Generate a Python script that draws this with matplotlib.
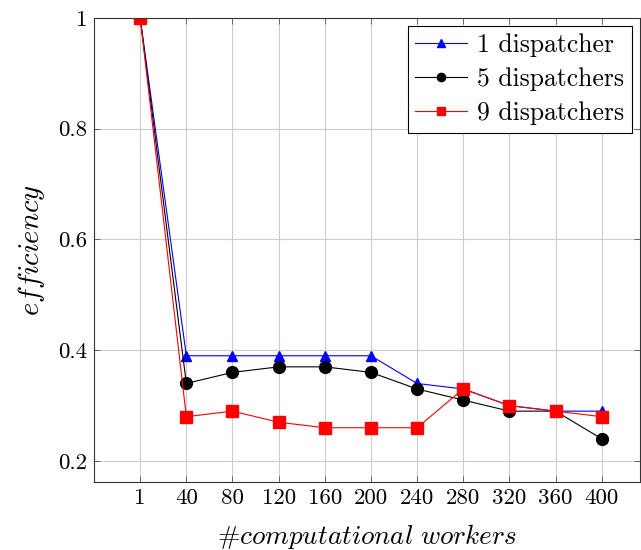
import matplotlib
matplotlib.use('Agg')
import matplotlib.pyplot as plt
import numpy as np

plt.rcParams['font.family'] = 'serif'
plt.rcParams['font.serif'] = ['cmr10']
plt.rcParams['mathtext.fontset'] = 'cm'
plt.rcParams['axes.formatter.use_mathtext'] = True
plt.rcParams['axes.unicode_minus'] = False

# Datos
workers = ['1', '40', '80', '120', '160', '200', '240', '280', '320', '360', '400']
disp1 = [1.0, 0.39, 0.39, 0.39, 0.39, 0.39, 0.34, 0.33, 0.30, 0.29, 0.29]
disp5 = [1.0, 0.34, 0.36, 0.37, 0.37, 0.36, 0.33, 0.31, 0.29, 0.29, 0.24]
disp9 = [1.0, 0.28, 0.29, 0.27, 0.26, 0.26, 0.26, 0.33, 0.30, 0.29, 0.28]
yticks = [0.2, 0.4, 0.6, 0.8, 1.0]
ytick_labels = ['0.2', '0.4', '0.6', '0.8', '1']

x = np.arange(len(workers))

fig = plt.figure(figsize=(6.41, 5.50), dpi=100)
ax = fig.add_axes([0.1467, 0.1236, 0.851, 0.8437])

ax.plot(x, disp1, color='blue', lw=0.8, marker='^', ms=7.5, label='1 dispatcher')
ax.plot(x, disp5, color='black', lw=0.8, marker='o', ms=8.5, label='5 dispatchers')
ax.plot(x, disp9, color='red', lw=0.8, marker='s', ms=8.5, label='9 dispatchers')

ax.set_xlim(-1, 10.82)
ax.set_ylim(0.162, 1.0)
ax.set_xticks(x)
ax.set_xticklabels(workers)
ax.set_yticks(yticks)
ax.set_yticklabels(ytick_labels)
ax.tick_params(direction='in', length=4, width=0.6, color='#555555', labelsize=16.5,
               top=True, right=True, pad=5)
ax.grid(True, color='#cccccc', lw=0.8)
ax.set_axisbelow(True)
for s in ax.spines.values():
    s.set_linewidth(0.8)
    s.set_color('#333333')

ax.set_xlabel(r'#$computational\ workers$', fontsize=19.5, labelpad=10)
ax.set_ylabel(r'$efficiency$', fontsize=20.5, labelpad=8)

leg = ax.legend(loc='upper right', fontsize=18.5, fancybox=False, framealpha=1,
                edgecolor='black', handlelength=2.0, borderaxespad=0.3,
                labelspacing=0.4, handletextpad=0.4, borderpad=0.3, markerscale=0.7)
leg.get_frame().set_linewidth(0.8)

fig.savefig('out.png', dpi=100)
